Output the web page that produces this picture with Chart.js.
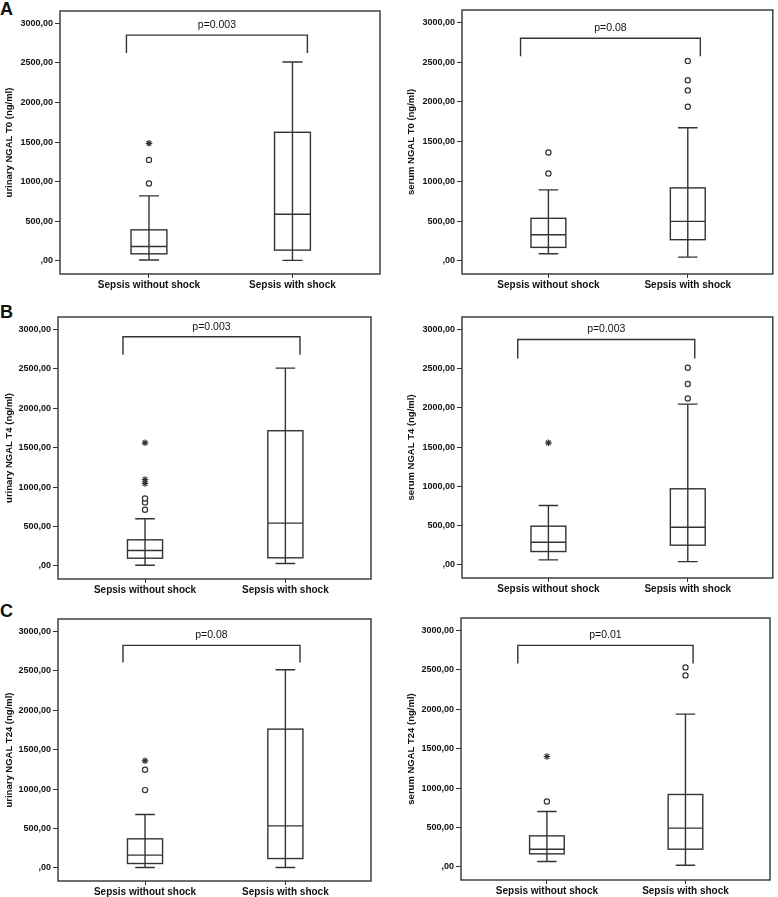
<!DOCTYPE html>
<html>
<head>
<meta charset="utf-8">
<script src="https://cdn.jsdelivr.net/npm/chart.js@4.4.0/dist/chart.umd.min.js"></script>
<style>
body { margin: 0; background: #fff; width: 778px; height: 897px; position: relative; overflow: hidden; font-family: "Liberation Sans", Arial, sans-serif; }
canvas { position: absolute; }
.lbl { position: absolute; left: 0; font-weight: bold; font-size: 18px; line-height: 1; color: #111; }
</style>
</head>
<body>
<div class="lbl" style="top:0px">A</div>
<div class="lbl" style="top:303px">B</div>
<div class="lbl" style="top:602px">C</div>
<canvas id="aL" width="390" height="297" style="left:0;top:0"></canvas>
<canvas id="aR" width="388" height="297" style="left:390px;top:0"></canvas>
<canvas id="bL" width="390" height="300" style="left:0;top:297px"></canvas>
<canvas id="bR" width="388" height="300" style="left:390px;top:297px"></canvas>
<canvas id="cL" width="390" height="300" style="left:0;top:597px"></canvas>
<canvas id="cR" width="388" height="300" style="left:390px;top:597px"></canvas>
<script>
var groups = ['Sepsis without shock', 'Sepsis with shock'];
var yTicks = [0, 500, 1000, 1500, 2000, 2500, 3000];
var yTickLabels = [',00', '500,00', '1000,00', '1500,00', '2000,00', '2500,00', '3000,00'];

// [lower whisker, Q1, median, Q3, upper whisker] for each group
var urinaryT0 = [[10, 88, 181, 391, 820], [5, 135, 589, 1624, 2512]];
var urinaryT0Circles = [[976, 1275], []];
var urinaryT0Stars = [[1485], []];

var serumT0 = [[88, 168, 328, 534, 892], [46, 265, 496, 917, 1674]];
var serumT0Circles = [[1098, 1363], [1939, 2145, 2272, 2516]];
var serumT0Stars = [[], []];

var urinaryT4 = [[8, 97, 195, 330, 597], [30, 102, 542, 1714, 2509]];
var urinaryT4Circles = [[711, 805, 855], []];
var urinaryT4Stars = [[1045, 1095, 1561], []];

var serumT4 = [[64, 170, 289, 493, 756], [42, 251, 480, 969, 2048]];
var serumT4Circles = [[], [2120, 2303, 2511]];
var serumT4Stars = [[1555], []];

var urinaryT24 = [[4, 55, 161, 368, 677], [4, 118, 533, 1760, 2514]];
var urinaryT24Circles = [[986, 1244], []];
var urinaryT24Stars = [[1358], []];

var serumT24 = [[68, 165, 224, 393, 702], [21, 224, 491, 918, 1938]];
var serumT24Circles = [[829], [2429, 2530]];
var serumT24Stars = [[1400], []];

var pValues = ['p=0.003', 'p=0.08', 'p=0.003', 'p=0.003', 'p=0.08', 'p=0.01'];

var lineColor = '#333';

function boxPlugin(stats, pText, br) {
    return {
        id: 'boxes',
        beforeDatasetsDraw: function(chart) {
            var ctx = chart.ctx, x = chart.scales.x, y = chart.scales.y, a = chart.chartArea;
            ctx.save();
            ctx.strokeStyle = lineColor;
            ctx.lineWidth = 1.4;
            ctx.strokeRect(a.left, a.top, a.right - a.left, a.bottom - a.top);
            for (var g = 0; g < stats.length; g++) {
                var s = stats[g];
                var cx = x.getPixelForValue(g);
                var hw = x.getPixelForValue(g + 0.125) - cx;
                var cw = x.getPixelForValue(g + 0.07) - cx;
                ctx.beginPath();
                ctx.moveTo(cx, y.getPixelForValue(s[0]));
                ctx.lineTo(cx, y.getPixelForValue(s[4]));
                ctx.moveTo(cx - cw, y.getPixelForValue(s[0]));
                ctx.lineTo(cx + cw, y.getPixelForValue(s[0]));
                ctx.moveTo(cx - cw, y.getPixelForValue(s[4]));
                ctx.lineTo(cx + cw, y.getPixelForValue(s[4]));
                ctx.moveTo(cx - hw, y.getPixelForValue(s[2]));
                ctx.lineTo(cx + hw, y.getPixelForValue(s[2]));
                ctx.stroke();
                var top = y.getPixelForValue(s[3]), bot = y.getPixelForValue(s[1]);
                ctx.strokeRect(cx - hw, top, hw * 2, bot - top);
            }
            // significance bracket
            var bx0 = x.getPixelForValue(br[0]), bx1 = x.getPixelForValue(br[1]);
            var by = y.getPixelForValue(br[2]), bd = y.getPixelForValue(br[3]);
            ctx.beginPath();
            ctx.moveTo(bx0, bd);
            ctx.lineTo(bx0, by);
            ctx.lineTo(bx1, by);
            ctx.lineTo(bx1, bd);
            ctx.stroke();
            ctx.fillStyle = '#111';
            ctx.font = '10.5px "Liberation Sans", Arial, sans-serif';
            ctx.textAlign = 'center';
            ctx.textBaseline = 'middle';
            ctx.fillText(pText, (bx0 + bx1) / 2, by - 10);
            ctx.restore();
        }
    };
}

function drawPanel(id, title, stats, circles, stars, pText, br, box) {
    // box: y axis width, top padding, right padding, x axis height, title padding
    var circlePts = [], starPts = [];
    for (var g = 0; g < groups.length; g++) {
        circles[g].forEach(function(v) { circlePts.push({x: g, y: v}); });
        stars[g].forEach(function(v) { starPts.push({x: g, y: v}); });
    }
    new Chart(document.getElementById(id), {
        type: 'scatter',
        data: {
            datasets: [{
                data: circlePts,
                pointStyle: 'circle',
                pointRadius: 2.6,
                borderColor: lineColor,
                backgroundColor: '#fff',
                borderWidth: 1.2
            },
            {
                data: starPts,
                pointStyle: 'star',
                pointRadius: 3.3,
                borderColor: lineColor,
                backgroundColor: lineColor,
                borderWidth: 1.2
            }]
        },
        options: {
            responsive: false,
            animation: false,
            devicePixelRatio: 1,
            layout: { padding: { top: box[1], right: box[2], left: 0, bottom: 0 } },
            plugins: { legend: { display: false }, tooltip: { enabled: false } },
            scales: {
                x: {
                    type: 'linear',
                    min: -0.62,
                    max: 1.61,
                    afterBuildTicks: function(s) { s.ticks = groups.map(function(g, i) { return {value: i}; }); },
                    afterFit: function(s) { s.height = box[3]; },
                    ticks: {
                        callback: function(v) { return groups[v]; },
                        font: { family: '"Liberation Sans", Arial, sans-serif', size: 10, weight: 'bold' },
                        color: '#111',
                        padding: 1,
                        maxRotation: 0,
                        autoSkip: false
                    },
                    grid: { drawOnChartArea: false, tickLength: 4, color: lineColor },
                    border: { display: false }
                },
                y: {
                    min: -167,
                    max: 3157,
                    afterBuildTicks: function(s) { s.ticks = yTicks.map(function(v) { return {value: v}; }); },
                    afterFit: function(s) { s.width = box[0]; },
                    ticks: {
                        callback: function(v) { return yTickLabels[yTicks.indexOf(v)]; },
                        font: { family: '"Liberation Sans", Arial, sans-serif', size: 9, weight: 'bold' },
                        color: '#111',
                        padding: 2
                    },
                    grid: { drawOnChartArea: false, tickLength: 5, color: lineColor },
                    border: { display: false },
                    title: {
                        display: true,
                        text: title,
                        color: '#111',
                        font: { family: '"Liberation Sans", Arial, sans-serif', size: 9.5, weight: 'bold' },
                        padding: { top: box[4], bottom: 0 }
                    }
                }
            }
        },
        plugins: [boxPlugin(stats, pText, br)]
    });
}

drawPanel('aL', 'urinary NGAL T0 (ng/ml)', urinaryT0, urinaryT0Circles, urinaryT0Stars, pValues[0], [-0.157, 1.104, 2852, 2625], [60, 11, 10, 23, 4]);
drawPanel('aR', 'serum NGAL T0 (ng/ml)', serumT0, serumT0Circles, serumT0Stars, pValues[1], [-0.2, 1.09, 2802, 2575], [72, 10, 1, 23, 16]);
drawPanel('bL', 'urinary NGAL T4 (ng/ml)', urinaryT4, urinaryT4Circles, urinaryT4Stars, pValues[2], [-0.157, 1.104, 2907, 2679], [58, 20, 19, 18, 4]);
drawPanel('bR', 'serum NGAL T4 (ng/ml)', serumT4, serumT4Circles, serumT4Stars, pValues[3], [-0.22, 1.05, 2871, 2630], [72, 20, 5, 19, 16]);
drawPanel('cL', 'urinary NGAL T24 (ng/ml)', urinaryT24, urinaryT24Circles, urinaryT24Stars, pValues[4], [-0.157, 1.104, 2822, 2606], [58, 22, 19, 16, 4]);
drawPanel('cR', 'serum NGAL T24 (ng/ml)', serumT24, serumT24Circles, serumT24Stars, pValues[5], [-0.21, 1.055, 2810, 2581], [71, 21, 8, 17, 16]);
</script>
</body>
</html>
